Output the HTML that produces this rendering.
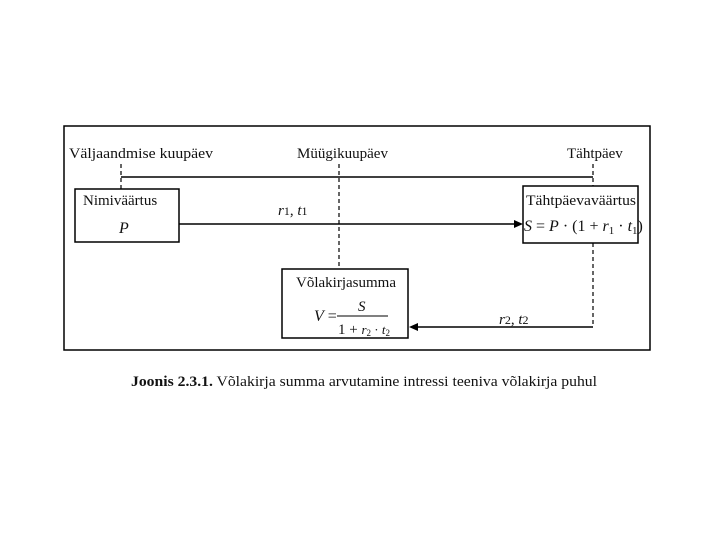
<!DOCTYPE html>
<html><head><meta charset="utf-8"><style>
body{margin:0;background:#fff}
svg{display:block}
text{font-family:"Liberation Serif",serif;fill:#111}
</style></head><body>
<svg width="720" height="540" viewBox="0 0 720 540" xmlns="http://www.w3.org/2000/svg">
<rect x="64" y="126" width="586" height="224" fill="none" stroke="#000" stroke-width="1.5"/>
<text x="69" y="158" font-size="15" textLength="144" lengthAdjust="spacingAndGlyphs">Väljaandmise kuupäev</text>
<text x="297" y="158" font-size="15" textLength="91" lengthAdjust="spacingAndGlyphs">Müügikuupäev</text>
<text x="567" y="158" font-size="15">Tähtpäev</text>
<line x1="121" y1="177" x2="593" y2="177" stroke="#000" stroke-width="1.5"/>
<g stroke="#000" stroke-width="1.2" stroke-dasharray="4,3">
<line x1="121" y1="164" x2="121" y2="189"/>
<line x1="339" y1="164" x2="339" y2="269"/>
<line x1="593" y1="164" x2="593" y2="186"/>
<line x1="593" y1="243" x2="593" y2="327"/>
</g>
<rect x="75" y="189" width="104" height="53" fill="#fff" stroke="#000" stroke-width="1.5"/>
<text x="83" y="205" font-size="15">Nimiväärtus</text>
<text x="119" y="233" font-size="16" font-style="italic">P</text>
<rect x="523" y="186" width="115" height="57" fill="#fff" stroke="#000" stroke-width="1.5"/>
<text x="526" y="205" font-size="15" textLength="110" lengthAdjust="spacingAndGlyphs">Tähtpäevaväärtus</text>
<text x="524" y="231" font-size="16"><tspan font-style="italic">S</tspan> = <tspan font-style="italic">P</tspan> · (1 + <tspan font-style="italic">r</tspan><tspan font-size="11" dy="3">1</tspan><tspan dy="-3"> · </tspan><tspan font-style="italic">t</tspan><tspan font-size="11" dy="3">1</tspan><tspan dy="-3">)</tspan></text>
<line x1="179" y1="224" x2="516" y2="224" stroke="#000" stroke-width="1.5"/>
<polygon points="523,224 514,220 514,228" fill="#000"/>
<text x="278" y="215" font-size="15" font-style="italic">r<tspan font-style="normal" font-size="12">1</tspan><tspan font-style="normal">, </tspan>t<tspan font-style="normal" font-size="12">1</tspan></text>
<rect x="282" y="269" width="126" height="69" fill="#fff" stroke="#000" stroke-width="1.5"/>
<text x="296" y="287" font-size="15">Võlakirjasumma</text>
<text x="314" y="321" font-size="16"><tspan font-style="italic">V</tspan> =</text>
<text x="358" y="311" font-size="15" font-style="italic">S</text>
<line x1="337" y1="316" x2="388" y2="316" stroke="#000" stroke-width="1"/>
<text x="338" y="334" font-size="15">1 + <tspan font-style="italic" font-size="13">r</tspan><tspan font-size="9" dy="2">2</tspan><tspan dy="-2" font-size="13"> · </tspan><tspan font-style="italic" font-size="13">t</tspan><tspan font-size="9" dy="2">2</tspan></text>
<line x1="593" y1="327" x2="416" y2="327" stroke="#000" stroke-width="1.5"/>
<polygon points="409,327 418,323 418,331" fill="#000"/>
<text x="499" y="324" font-size="15" font-style="italic">r<tspan font-style="normal" font-size="12">2</tspan><tspan font-style="normal">, </tspan>t<tspan font-style="normal" font-size="12">2</tspan></text>
<text x="131" y="386" font-size="15" textLength="466" lengthAdjust="spacingAndGlyphs"><tspan font-weight="bold">Joonis 2.3.1.</tspan> Võlakirja summa arvutamine intressi teeniva võlakirja puhul</text>
</svg>
</body></html>
